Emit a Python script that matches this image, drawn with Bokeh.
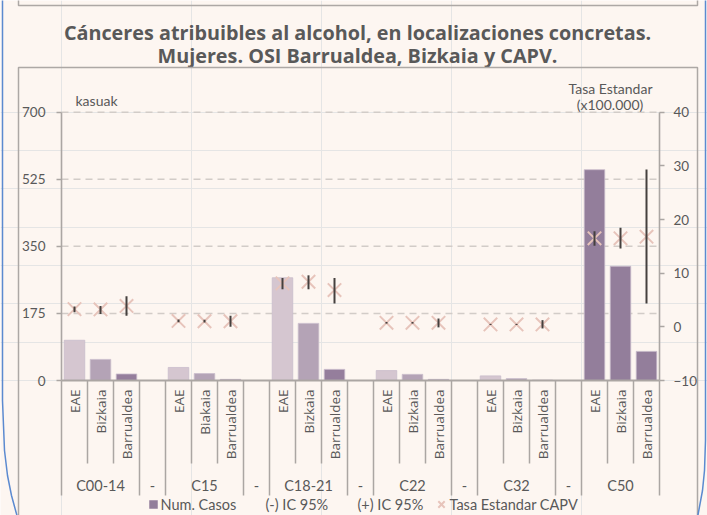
import math
from bokeh.plotting import figure
from bokeh.models import Range1d, LinearAxis, FixedTicker
from bokeh.core.properties import value
from bokeh.embed import file_html
from bokeh.resources import INLINE

# ---------------- data ----------------
title_lines = ["Cánceres atribuibles al alcohol, en localizaciones concretas.",
               "Mujeres. OSI Barrualdea, Bizkaia y CAPV."]
groups = ["C00-14", "C15", "C18-21", "C22", "C32", "C50"]
sub_labels = [
    ["EAE", "Bizkaia", "Barrualdea"],
    ["EAE", "Biakaia", "Barrualdea"],
    ["EAE", "Bizkaia", "Barrualdea"],
    ["EAE", "Bizkaia", "Barrualdea"],
    ["EAE", "Bizkaia", "Barrualdea"],
    ["EAE", "Bizkaia", "Barrualdea"],
]
separator_label = "-"
num_casos = [105, 55, 17, 34, 18, 3, 268, 149, 29, 26, 16, 3, 12, 5, 1, 550, 298, 76]
tasa = [3.3, 3.25, 3.9, 1.1, 1.05, 1.05, 8.1, 8.4, 6.85, 0.75, 0.75, 0.75,
        0.45, 0.45, 0.45, 16.5, 16.5, 16.8]
ic_lo = [2.7, 2.4, 2.05, 0.85, 0.8, 0.0, 7.0, 7.0, 4.35, 0.6, 0.6, -0.1,
         0.35, 0.35, -0.3, 15.1, 14.6, 4.35]
ic_hi = [3.8, 3.9, 5.7, 1.35, 1.3, 2.05, 9.1, 9.6, 9.1, 0.9, 0.9, 1.55,
         0.55, 0.55, 1.25, 17.8, 18.45, 29.3]
left_ticks = [0, 175, 350, 525, 700]
right_ticks = [-10, 0, 10, 20, 30, 40]
left_axis_title = "kasuak"
right_axis_title = ["Tasa Estandar", "(x100.000)"]
legend_labels = ["Num. Casos", "(-) IC 95%", "(+) IC 95%", "Tasa Estandar CAPV"]

# ---------------- styles / layout ----------------
W, H = 707, 515
X0, SW = 61.0, 26.0             # canvas x of first slot edge, slot width (px)
Y0 = 380.0                      # canvas y of 0 cases
PPU = 268.3 / 700.0             # px per case
PPR = 268.3 / 50.0              # px per rate unit
R0 = Y0 - 10 * PPR              # canvas y of rate 0

BG = "#FDF6F1"
TXT = "#595959"
AX = "#ABA6A3"
FONT = "Lato"
light = ["#D5C6D0", "#B4A3B6", "#957E9C"]
dark = ["#937E9B", "#937E9B", "#937E9B"]
group_palette = [light, light, light, light, light, dark]
X_COL = "#E7C4BB"
CI_COL = "#45403E"


def dx(cx):
    return (cx - X0) / SW


def dy(cy):
    return (Y0 - cy) / PPU


n_slots = len(groups) * 4 - 1

p = figure(width=W, height=H, output_backend="svg", toolbar_location=None,
           x_range=Range1d(dx(0), dx(W)), y_range=Range1d(dy(H), dy(0)),
           x_axis_location=None, y_axis_location=None, min_border=0,
           background_fill_color=BG, border_fill_color=BG, outline_line_color=None)
p.extra_y_ranges = {"rate": Range1d(-(H - R0) / PPR, R0 / PPR)}

# grid lines
grid_y = [t for t in left_ticks if t > 0]
p.segment(x0=[0] * len(grid_y), x1=[n_slots] * len(grid_y), y0=grid_y, y1=grid_y,
          line_color="#D2CCC8", line_width=1.5, line_dash="7 5")

# bar positions
xs, cols, subs = [], [], []
for gi, g in enumerate(groups):
    for j, s in enumerate(sub_labels[gi]):
        xs.append(gi * 4 + j + 0.5)
        cols.append(group_palette[gi][j])
        subs.append(s)

p.vbar(x=xs, top=num_casos, bottom=0, width=0.79, fill_color=cols,
       line_color="#C9BCCB", line_width=0.8)

p.scatter(x=xs, y=tasa, marker="x", size=19, line_color=X_COL, line_width=2,
          y_range_name="rate")
p.segment(x0=xs, x1=xs, y0=ic_lo, y1=ic_hi, line_color=CI_COL, line_width=2,
          y_range_name="rate")

# axes
left = LinearAxis(bounds=(0, 700), ticker=FixedTicker(ticks=left_ticks), fixed_location=0)
right = LinearAxis(y_range_name="rate", bounds=(-10, 40),
                   ticker=FixedTicker(ticks=right_ticks), fixed_location=n_slots)
for ax, st in ((left, 11), (right, 9)):
    ax.axis_line_color = AX
    ax.axis_line_width = 1.6
    ax.major_tick_line_color = AX
    ax.major_tick_line_width = 1.6
    ax.major_tick_out = 5
    ax.major_tick_in = 0
    ax.minor_tick_out = 0
    ax.minor_tick_in = 0
    ax.major_label_text_font = FONT
    ax.major_label_text_font_size = "13.5px"
    ax.major_label_text_color = TXT
    ax.major_label_standoff = st
p.add_layout(left, "left")
p.add_layout(right, "right")

# category axis baseline and separators
p.segment(x0=[0], x1=[n_slots], y0=[0], y1=[0], line_color=AX, line_width=1.8)
long_x, short_x = [], []
for gi in range(len(groups)):
    long_x += [gi * 4, gi * 4 + 3]
    short_x += [gi * 4 + 1, gi * 4 + 2]
long_x = sorted(set(long_x))
p.segment(x0=long_x, x1=long_x, y0=[0] * len(long_x), y1=[dy(495)] * len(long_x),
          line_color=AX, line_width=1.5)
p.segment(x0=short_x, x1=short_x, y0=[0] * len(short_x), y1=[dy(463)] * len(short_x),
          line_color=AX, line_width=1.5)

# inner labels (rotated)
p.text(x=xs, y=[dy(389)] * len(xs), text=subs, angle=math.pi / 2,
       text_align="right", text_baseline="middle", text_font=value("Open Sans"),
       text_font_size=value("13.5px"), text_color=TXT)

# group labels
gx, gl = [], []
for gi, g in enumerate(groups):
    gx.append(gi * 4 + 1.5)
    gl.append(g)
    if gi < len(groups) - 1:
        gx.append(gi * 4 + 3.5)
        gl.append(separator_label)
p.text(x=gx, y=[dy(485)] * len(gx), text=gl, text_align="center", text_baseline="middle",
       text_font=value(FONT), text_font_size=value("14.5px"), text_color=TXT)

# title
p.text(x=[dx(357)] * 2, y=[dy(32), dy(55)], text=title_lines, text_align="center",
       text_baseline="alphabetic", text_font=value("Open Sans"), text_font_style="bold",
       text_font_size=value("19.8px"), text_color=TXT)

# axis titles
p.text(x=[dx(96)], y=[dy(100)], text=[left_axis_title], text_align="center",
       text_baseline="alphabetic", text_font=value(FONT), text_font_size=value("14px"),
       text_color=TXT)
p.text(x=[dx(610), dx(609.5)], y=[dy(88), dy(104)], text=right_axis_title,
       text_align="center", text_baseline="alphabetic", text_font=value(FONT),
       text_font_size=value("14px"), text_color=TXT)

# legend (drawn)
LY = 504
p.scatter(x=[dx(153)], y=[dy(LY)], marker="square", size=8.5, fill_color=dark[0],
          line_color=None)
p.scatter(x=[dx(441)], y=[dy(LY)], marker="x", size=9, line_color=X_COL, line_width=2)
p.text(x=[dx(160), dx(265), dx(357), dx(449)], y=[dy(LY)] * 4, text=legend_labels,
       text_align="left", text_baseline="middle", text_font=value(FONT),
       text_font_size=value("14.5px"), text_color=TXT)

# frame decorations
p.line(x=[dx(18), dx(18), dx(697), dx(697)], y=[dy(H + 2), dy(67), dy(67), dy(H + 2)],
       line_color="#ADA8A5", line_width=1.5)
p.line(x=[dx(18), dx(18), dx(697), dx(697)], y=[dy(-2), dy(5), dy(5), dy(-2)],
       line_color="#ADA8A5", line_width=1.5)
p.line(x=[dx(c) for c in (2, 2, 4, 7, 11, 17)],
       y=[dy(c) for c in (-2, 400, 450, 475, 495, 517)],
       line_color="#5B8AD0", line_width=1.5)
p.line(x=[dx(c) for c in (705, 705, 704, 702, 697)],
       y=[dy(c) for c in (-2, 440, 470, 490, 517)],
       line_color="#5B8AD0", line_width=1.5)

open("out.html", "w").write(file_html(p, INLINE))
